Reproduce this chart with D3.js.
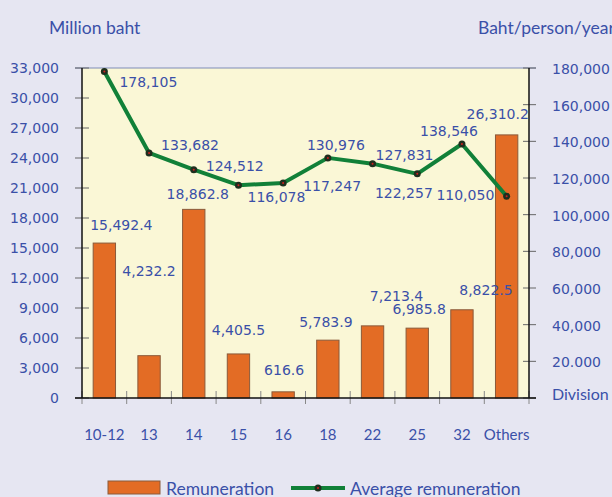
<!DOCTYPE html>
<html>
<head>
<meta charset="utf-8">
<script src="https://cdn.jsdelivr.net/npm/d3@7"></script>
<style>
  html, body { margin: 0; padding: 0; background: #E6E6F2; }
  svg { display: block; }
</style>
</head>
<body>
<svg id="chart" width="612" height="497"></svg>
<script>
// ---- data ----
const categories = ["10-12", "13", "14", "15", "16", "18", "22", "25", "32", "Others"];
const remuneration = [15492.4, 4232.2, 18862.8, 4405.5, 616.6, 5783.9, 7213.4, 6985.8, 8822.5, 26310.2];
const remunerationLabels = ["15,492.4", "4,232.2", "18,862.8", "4,405.5", "616.6", "5,783.9", "7,213.4", "6,985.8", "8,822.5", "26,310.2"];
const avgRemuneration = [178105, 133682, 124512, 116078, 117247, 130976, 127831, 122257, 138546, 110050];
const leftTicks = [0, 3000, 6000, 9000, 12000, 15000, 18000, 21000, 24000, 27000, 30000, 33000];
const rightTicks = [0, 20000, 40000, 60000, 80000, 100000, 120000, 140000, 160000, 180000];
const rightTickLabels = ["Division", "20.000", "40,000", "60,000", "80,000", "100,000", "120,000", "140,000", "160,000", "180,000"];

// ---- layout (label offsets relative to marks) ----
const barLabelOffset = [[17, -18], [0, -85], [4, -15], [0, -24], [1, -22], [-2, -18], [24, -30], [2, -19], [24, -20], [-9, -21]];
const lineLabelOffset = [[44, 11], [41, -8], [41, -4], [38, 11.5], [49, 3], [8, -13], [32, -8.6], [-13.4, 19.4], [-13, -13.3], [-41.3, -1]];

const svg = d3.select("#chart");
const L = 82, R = 529, T = 68, B = 398;
const textBlue = "#3A50A8";
const numFont = "'DejaVu Sans', sans-serif";
const titleFont = "Lato, 'Open Sans', sans-serif";

const x = d3.scaleBand().domain(categories).range([L, R]).paddingInner(0.5).paddingOuter(0.25);
const yL = d3.scaleLinear().domain([0, 33000]).range([B, T]);
const yR = d3.scaleLinear().domain([0, 180000]).range([B, T]);
const step = x.step();
const fmt = d3.format(",");

// plot background
svg.append("rect").attr("x", L).attr("y", T).attr("width", R - L).attr("height", B - T).attr("fill", "#FAF7D6");
// top border
svg.append("line").attr("x1", 75).attr("x2", 536).attr("y1", T).attr("y2", T).attr("stroke", "#7F8CB8").attr("stroke-width", 1);

// left ticks
leftTicks.forEach(v => {
  svg.append("line").attr("x1", 75).attr("x2", 89).attr("y1", yL(v)).attr("y2", yL(v))
    .attr("stroke", "#666").attr("stroke-width", 1);
  svg.append("text").attr("x", 59).attr("y", yL(v)).attr("text-anchor", "end").attr("dominant-baseline", "central")
    .attr("font-family", numFont).attr("font-size", 14).attr("fill", textBlue).text(fmt(v));
});
// right ticks
rightTicks.forEach((v, i) => {
  svg.append("line").attr("x1", 523).attr("x2", 536).attr("y1", yR(v)).attr("y2", yR(v))
    .attr("stroke", "#666").attr("stroke-width", 1);
  const isText = i === 0;
  svg.append("text").attr("x", 552).attr("y", yR(v) + (isText ? -5 : 1)).attr("dominant-baseline", "central")
    .attr("font-family", isText ? titleFont : numFont).attr("font-size", isText ? 16 : 14)
    .attr("fill", textBlue).text(rightTickLabels[i]);
});
// bottom ticks at band boundaries
const bounds = categories.map(c => x(c) - (step - x.bandwidth()) / 2).concat([R]);
bounds.forEach(b => {
  svg.append("line").attr("x1", b).attr("x2", b).attr("y1", 391).attr("y2", 404)
    .attr("stroke", "#888").attr("stroke-width", 1);
});

// bars
svg.selectAll("rect.bar").data(remuneration).enter().append("rect").attr("class", "bar")
  .attr("x", (d, i) => x(categories[i])).attr("width", x.bandwidth())
  .attr("y", d => yL(d)).attr("height", d => B - yL(d))
  .attr("fill", "#E36C25").attr("stroke", "#8A5A3A").attr("stroke-width", 1);

// axis lines
svg.append("line").attr("x1", L).attr("x2", L).attr("y1", T).attr("y2", B).attr("stroke", "#111").attr("stroke-width", 1.5);
svg.append("line").attr("x1", R).attr("x2", R).attr("y1", T).attr("y2", B).attr("stroke", "#111").attr("stroke-width", 1.5);
svg.append("line").attr("x1", 75).attr("x2", 536).attr("y1", B).attr("y2", B).attr("stroke", "#111").attr("stroke-width", 1.5);

// line
const cx = i => x(categories[i]) + x.bandwidth() / 2;
const line = d3.line().x((d, i) => cx(i)).y(d => yR(d));
svg.append("path").datum(avgRemuneration).attr("d", line).attr("fill", "none")
  .attr("stroke", "#118038").attr("stroke-width", 4).attr("stroke-linejoin", "round");
avgRemuneration.forEach((v, i) => {
  svg.append("circle").attr("cx", cx(i)).attr("cy", yR(v)).attr("r", 3.5).attr("fill", "#1E2E1E");
  svg.append("circle").attr("cx", cx(i)).attr("cy", yR(v)).attr("r", 1).attr("fill", "#D02020");
});

// bar labels
remuneration.forEach((v, i) => {
  svg.append("text").attr("x", cx(i) + barLabelOffset[i][0]).attr("y", yL(v) + barLabelOffset[i][1])
    .attr("text-anchor", "middle").attr("dominant-baseline", "central")
    .attr("font-family", numFont).attr("font-size", 14).attr("fill", textBlue).text(remunerationLabels[i]);
});
// line labels
avgRemuneration.forEach((v, i) => {
  svg.append("text").attr("x", cx(i) + lineLabelOffset[i][0]).attr("y", yR(v) + lineLabelOffset[i][1])
    .attr("text-anchor", "middle").attr("dominant-baseline", "central")
    .attr("font-family", numFont).attr("font-size", 14).attr("fill", textBlue).text(fmt(v));
});

// category labels
categories.forEach(c => {
  svg.append("text").attr("x", x(c) + x.bandwidth() / 2).attr("y", 434)
    .attr("text-anchor", "middle").attr("dominant-baseline", "central")
    .attr("font-family", titleFont).attr("font-size", 15).attr("fill", textBlue).text(c);
});

// axis titles
svg.append("text").attr("x", 49).attr("y", 27).attr("dominant-baseline", "central")
  .attr("font-family", titleFont).attr("font-size", 17.5).attr("fill", textBlue).text("Million baht");
svg.append("text").attr("x", 478).attr("y", 27).attr("dominant-baseline", "central")
  .attr("font-family", titleFont).attr("font-size", 17.5).attr("fill", textBlue).text("Baht/person/year");

// legend
svg.append("rect").attr("x", 108).attr("y", 481).attr("width", 52).attr("height", 13)
  .attr("fill", "#E36C25").attr("stroke", "#8A5A3A").attr("stroke-width", 1);
svg.append("text").attr("x", 166).attr("y", 488).attr("dominant-baseline", "central")
  .attr("font-family", titleFont).attr("font-size", 17.5).attr("fill", textBlue).text("Remuneration");
svg.append("line").attr("x1", 291).attr("x2", 345).attr("y1", 488).attr("y2", 488)
  .attr("stroke", "#118038").attr("stroke-width", 4);
svg.append("circle").attr("cx", 318).attr("cy", 488).attr("r", 3.5).attr("fill", "#1E2E1E");
svg.append("circle").attr("cx", 318).attr("cy", 488).attr("r", 1).attr("fill", "#D02020");
svg.append("text").attr("x", 350).attr("y", 488).attr("dominant-baseline", "central")
  .attr("font-family", titleFont).attr("font-size", 17.5).attr("fill", textBlue).text("Average remuneration");
</script>
</body>
</html>
